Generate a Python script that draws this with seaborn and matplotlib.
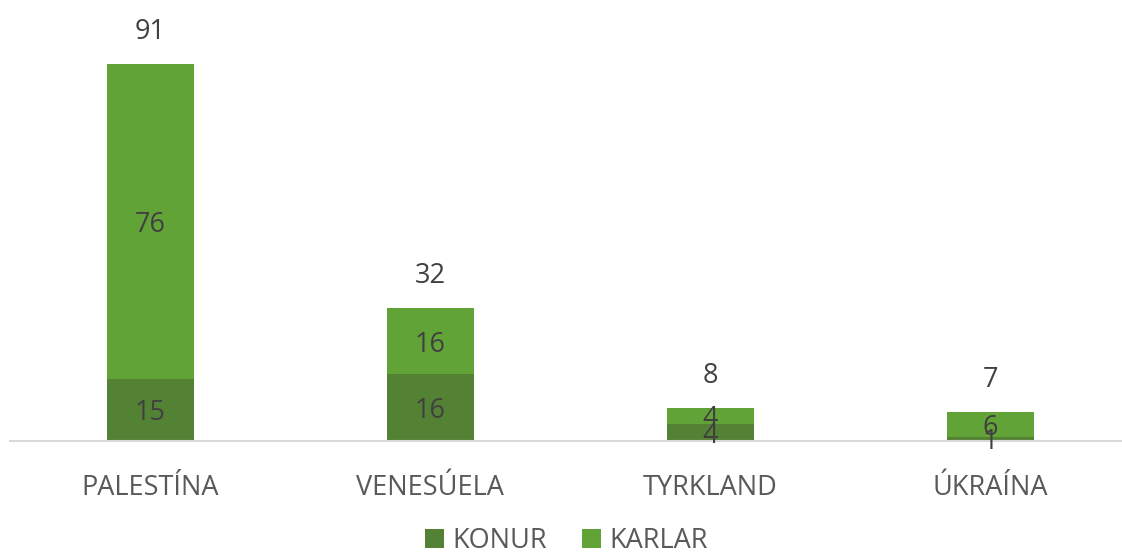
import matplotlib.pyplot as plt
import seaborn as sns
import pandas as pd

# chart data
countries = ["PALESTÍNA", "VENESÚELA", "TYRKLAND", "ÚKRAÍNA"]
konur = [15, 16, 4, 1]
karlar = [76, 16, 4, 6]

dark_green = "#548235"
light_green = "#62A338"
text_col = "#404040"


def main():
    sns.set_theme(style="white")
    plt.rcParams['font.family'] = ['Open Sans', 'DejaVu Sans']

    df = pd.DataFrame({"land": countries, "konur": konur, "karlar": karlar})
    df["total"] = df["konur"] + df["karlar"]

    fig = plt.figure(figsize=(11.22, 5.53), dpi=100)
    ax = fig.add_axes([0.009, 0.203, 0.991, 0.779])

    # total bar (karlar on top), konur drawn over the bottom part
    sns.barplot(data=df, x="land", y="total", color=light_green, width=0.31,
                saturation=1, ax=ax, label="KARLAR", linewidth=0)
    sns.barplot(data=df, x="land", y="konur", color=dark_green, width=0.31,
                saturation=1, ax=ax, label="KONUR", linewidth=0)

    # segment and total labels
    fs = 19.5
    for i, row in df.iterrows():
        ax.text(i, row["konur"] / 2, str(row["konur"]), ha="center", va="center_baseline",
                fontsize=fs, color=text_col)
        ax.text(i, row["konur"] + row["karlar"] / 2, str(row["karlar"]),
                ha="center", va="center_baseline", fontsize=fs, color=text_col)
        ax.text(i, row["total"] + 8.5, str(row["total"]), ha="center",
                va="center_baseline", fontsize=fs, color=text_col)

    ax.set_ylim(0, 104)
    ax.set_xlim(-0.5, 3.47)
    ax.set_xlabel("")
    ax.set_ylabel("")
    ax.set_yticks([])
    ax.tick_params(axis="x", length=0, labelsize=fs, labelcolor="#595959", pad=24)
    for s in ["top", "right", "left"]:
        ax.spines[s].set_visible(False)
    ax.spines["bottom"].set_color("#d9d9d9")
    ax.spines["bottom"].set_linewidth(1.5)
    ax.legend().remove()

    handles, labels = ax.get_legend_handles_labels()
    order = [labels.index("KONUR"), labels.index("KARLAR")]
    fig.legend([handles[k] for k in order], [labels[k] for k in order],
               loc="center", bbox_to_anchor=(0.505, 0.022), ncol=2, frameon=False,
               fontsize=fs, labelcolor="#595959", handlelength=0.7,
               handleheight=0.7, handletextpad=0.3, columnspacing=1.3)

    fig.savefig("out.png", dpi=100)
    plt.close()


if __name__ == "__main__":
    main()
